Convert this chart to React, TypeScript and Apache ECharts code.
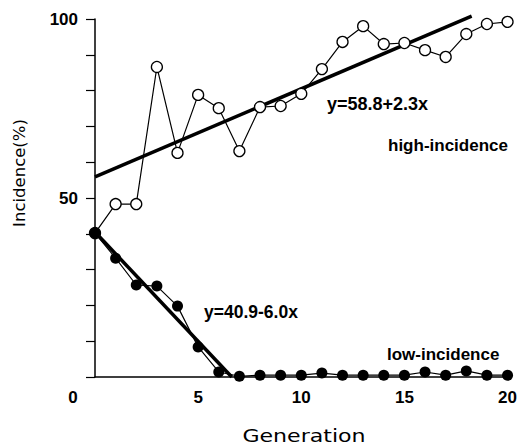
import React, { useEffect, useRef } from "react";
import * as echarts from "echarts";

const generations = [0, 1, 2, 3, 4, 5, 6, 7, 8, 9, 10, 11, 12, 13, 14, 15, 16, 17, 18, 19, 20];
const highIncidence = [40.2, 48.3, 48.3, 86.6, 62.6, 78.8, 75.1, 63.1, 75.4, 75.7, 79.1, 86.0, 93.6, 98.0, 93.0, 93.3, 91.3, 89.4, 95.8, 98.6, 99.2];
const lowIncidence = [40.2, 33.2, 25.7, 25.4, 19.8, 8.4, 1.4, 0.2, 0.5, 0.5, 0.5, 1.1, 0.5, 0.5, 0.5, 0.5, 1.4, 0.5, 1.7, 0.5, 0.5];
const highFitLine = [[0, 55.9], [18.26, 100.8]];
const lowFitLine = [[0, 40.5], [6.63, 0]];
const yLabelValues = [50, 100];
const xTickLabels = ["0", "5", "10", "15", "20"];

export default function App() {
  const ref = useRef<HTMLDivElement>(null);
  useEffect(() => {
    if (!ref.current) return;
    const chart = echarts.init(ref.current, null, { renderer: "svg" });
    const bold = { fontFamily: "Liberation Sans", fontWeight: "bold" as const, fontSize: 17, color: "#000" };
    chart.setOption({
      animation: false,
      backgroundColor: "#fff",
      grid: { left: 95, right: 12, top: 19, bottom: 70, containLabel: false },
      xAxis: {
        type: "value",
        min: 0,
        max: 20,
        interval: 5,
        axisLine: { show: true, lineStyle: { color: "#000", width: 1.5 } },
        axisTick: { show: false },
        splitLine: { show: false },
        axisLabel: {
          margin: 12,
          ...bold,
          formatter: (v: number) => {
            const s = xTickLabels[Math.round(v / 5)] ?? "";
            return v === 0 ? "{z|" + s + "}" : s;
          },
          rich: { z: { ...bold, padding: [0, 44, 0, 0] } },
        },
      },
      yAxis: {
        type: "value",
        min: 0,
        max: 100,
        interval: 10,
        axisLine: { show: true, lineStyle: { color: "#000", width: 1.5 } },
        axisTick: { show: true, inside: false, length: 9, lineStyle: { color: "#000", width: 1.2 } },
        splitLine: { show: false },
        axisLabel: {
          margin: 17,
          ...bold,
          formatter: (v: number) => (yLabelValues.includes(v) ? String(v) : ""),
        },
      },
      series: [
        {
          type: "line",
          data: generations.map((g, i) => [g, highIncidence[i]]),
          symbol: "circle",
          symbolSize: 11,
          lineStyle: { color: "#000", width: 1.2 },
          itemStyle: { color: "#fff", borderColor: "#000", borderWidth: 1.3 },
          z: 3,
        },
        {
          type: "line",
          data: highFitLine,
          symbol: "none",
          clip: false,
          lineStyle: { color: "#000", width: 3.5 },
          z: 2,
        },
        {
          type: "line",
          data: lowFitLine,
          symbol: "none",
          clip: false,
          lineStyle: { color: "#000", width: 3.5 },
          z: 2,
        },
        {
          type: "line",
          data: generations.map((g, i) => [g, lowIncidence[i]]),
          symbol: "circle",
          symbolSize: 11,
          lineStyle: { color: "#000", width: 1.2 },
          itemStyle: { color: "#000", borderColor: "#000", borderWidth: 0 },
          z: 4,
        },
      ],
      graphic: [
        { type: "text", x: 327, y: 104, style: { text: "y=58.8+2.3x", font: "bold 18px 'Liberation Sans'", fill: "#000", textAlign: "left", textVerticalAlign: "middle" } },
        { type: "text", x: 388, y: 145, style: { text: "high-incidence", font: "bold 17px 'Liberation Sans'", fill: "#000", textAlign: "left", textVerticalAlign: "middle" } },
        { type: "text", x: 204, y: 312, style: { text: "y=40.9-6.0x", font: "bold 17.5px 'Liberation Sans'", fill: "#000", textAlign: "left", textVerticalAlign: "middle" } },
        { type: "text", x: 387, y: 354, style: { text: "low-incidence", font: "bold 17px 'Liberation Sans'", fill: "#000", textAlign: "left", textVerticalAlign: "middle" } },
        { type: "text", x: 304, y: 436, scaleX: 1.3, style: { text: "Generation", font: "17px 'DejaVu Sans'", fill: "#000", textAlign: "center", textVerticalAlign: "middle" } },
        { type: "text", x: 19, y: 173, rotation: Math.PI / 2, style: { text: "Incidence(%)", font: "16.5px 'DejaVu Sans'", fill: "#000", textAlign: "center", textVerticalAlign: "middle" } },
      ],
    });
    return () => chart.dispose();
  }, []);
  return (
    <div
      ref={ref}
      style={{ position: "fixed", left: 0, top: 0, width: 520, height: 447, background: "#fff" }}
    />
  );
}
